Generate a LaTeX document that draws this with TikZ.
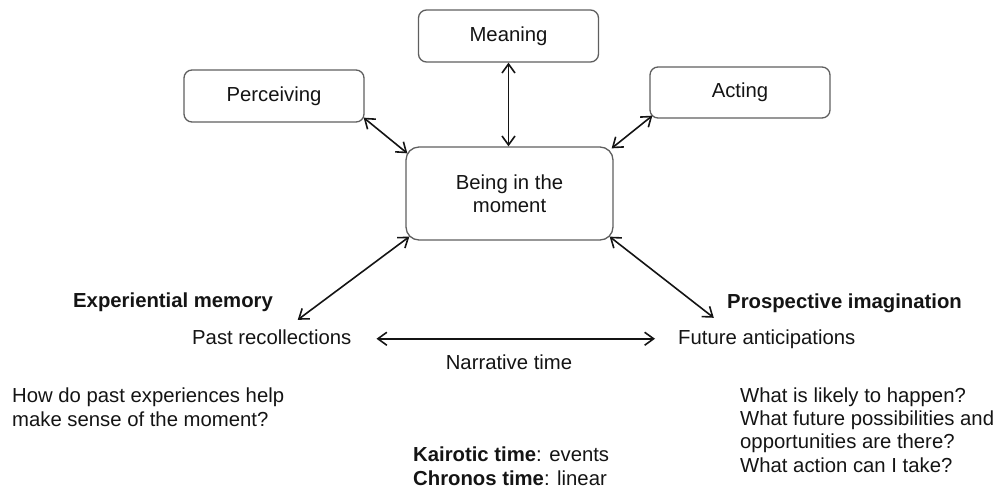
\documentclass[tikz,border=0pt]{standalone}
\usepackage{fontspec}
\setmainfont{Liberation Sans}
\usetikzlibrary{arrows.meta}
\definecolor{boxline}{RGB}{95,95,95}
\definecolor{ink}{RGB}{20,20,20}
\begin{document}
\begin{tikzpicture}[x=1pt,y=-1pt,
  txt/.style={font=\fontsize{20.3}{23.3}\selectfont, text=ink, inner sep=0pt},
  oneline/.style={txt, text height=15pt, text depth=4.5pt},
  heading/.style={oneline, font=\fontsize{20.3}{23.3}\selectfont\bfseries},
  stepbox/.style={txt, draw=boxline, line width=1.3pt, rounded corners=8pt, align=center},
  arr/.style={draw=ink, line width=1.6pt,
    {Straight Barb[length=9pt,width=13pt]}-{Straight Barb[length=9pt,width=13pt]}},
]
\useasboundingbox (0,0) rectangle (1003,490);

% boxes
\node[stepbox, minimum width=180pt, minimum height=52pt] (meaning) at (508.5,36) {Meaning};
\node[stepbox, minimum width=180pt, minimum height=52pt] (perc) at (274,96) {Perceiving};
\node[stepbox, minimum width=180pt, minimum height=51pt] (act) at (740,92.5) {Acting};
\node[stepbox, minimum width=207pt, minimum height=93pt, rounded corners=13pt] (being) at (509.5,193.5) {Being in the\\moment};

% free text (multi-line nodes are placed by the baseline of their last line)
\node[heading, anchor=base west] (expmem) at (73,307) {Experiential memory};
\node[heading, anchor=base west] (prosp) at (727,308) {Prospective imagination};
\node[oneline, anchor=base west] (past) at (192,344) {Past recollections};
\node[oneline, anchor=base west] (fut) at (678,344) {Future anticipations};
\node[oneline, anchor=base] (narr) at (509,369) {Narrative time};
\node[txt, align=left, anchor=base west] (howq) at (12,426) {How do past experiences help\\make sense of the moment?};
\node[txt, align=left, anchor=base west] (whatq) at (740,472) {What is likely to happen?\\What future possibilities and\\opportunities are there?\\What action can I take?};
\node[txt, align=left, anchor=base west] (times) at (413,485) {\textbf{Kairotic time}: events\\\textbf{Chronos time}: linear};

% connectors
\draw[arr] (meaning.south) -- (meaning.south |- being.north);
\draw[arr] ([shift={(-1,-5)}]perc.south east) -- ([shift={(2,7)}]being.north west);
\draw[arr] ([shift={(3,-3)}]act.south west) -- ([shift={(-2,2)}]being.north east);
\draw[arr] ([shift={(4,-4)}]being.south west) -- ([shift={(26,-9)}]past.north);
\draw[arr] ([shift={(-4,-4)}]being.south east) -- ([shift={(-53,-11)}]fut.north);
\draw[arr] ([xshift=25pt]past.east) -- ([xshift=-23pt]fut.west);
\end{tikzpicture}
\end{document}
